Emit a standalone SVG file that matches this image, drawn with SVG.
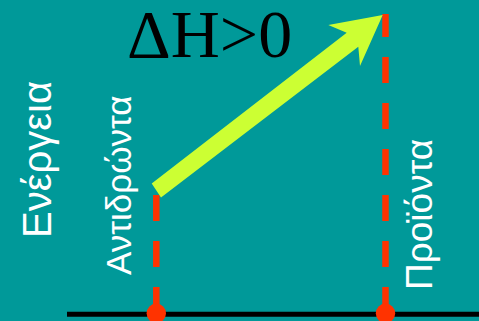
<svg xmlns="http://www.w3.org/2000/svg" width="479" height="321" viewBox="0 0 479 321">
<style>
.lbl{font-family:"Liberation Sans","DejaVu Sans",sans-serif;fill:#ffffff}
.dash{stroke:#ff3300;stroke-width:6.5;stroke-dasharray:26 20;fill:none}
.dot{fill:#ff3300}
</style>
<rect x="0" y="0" width="479" height="321" fill="#009999"/>
<g id="axis">
<line x1="67" y1="314.2" x2="479" y2="314.2" stroke="#000000" stroke-width="5"/>
</g>
<g id="connectors">
<line class="dash" x1="156.3" y1="313" x2="156.3" y2="195"/>
<line class="dash" x1="385.5" y1="313" x2="385.5" y2="14"/>
<polygon points="151.7,183.5 346.7,32.7 328.3,25 382.7,15 360,66 358.3,46.7 161,197.5" fill="#ccff33"/>
</g>
<g id="reactants">
<circle class="dot" cx="156.3" cy="313.3" r="9.7"/>
<text class="lbl" font-size="35" transform="translate(131,275) rotate(-90)">Αντιδρώντα</text>
</g>
<g id="products">
<circle class="dot" cx="385.5" cy="313.3" r="9.7"/>
<text class="lbl" font-size="37" transform="translate(431.5,290) rotate(-90)">Προϊόντα</text>
</g>
<g id="energy">
<text class="lbl" font-size="40" transform="translate(50.5,238) rotate(-90)">Ενέργεια</text>
</g>
<g id="dh">
<text x="127" y="57" font-family="'Liberation Serif','Times New Roman',serif" font-size="68" fill="#000000">ΔH&gt;0</text>
</g>
</svg>
